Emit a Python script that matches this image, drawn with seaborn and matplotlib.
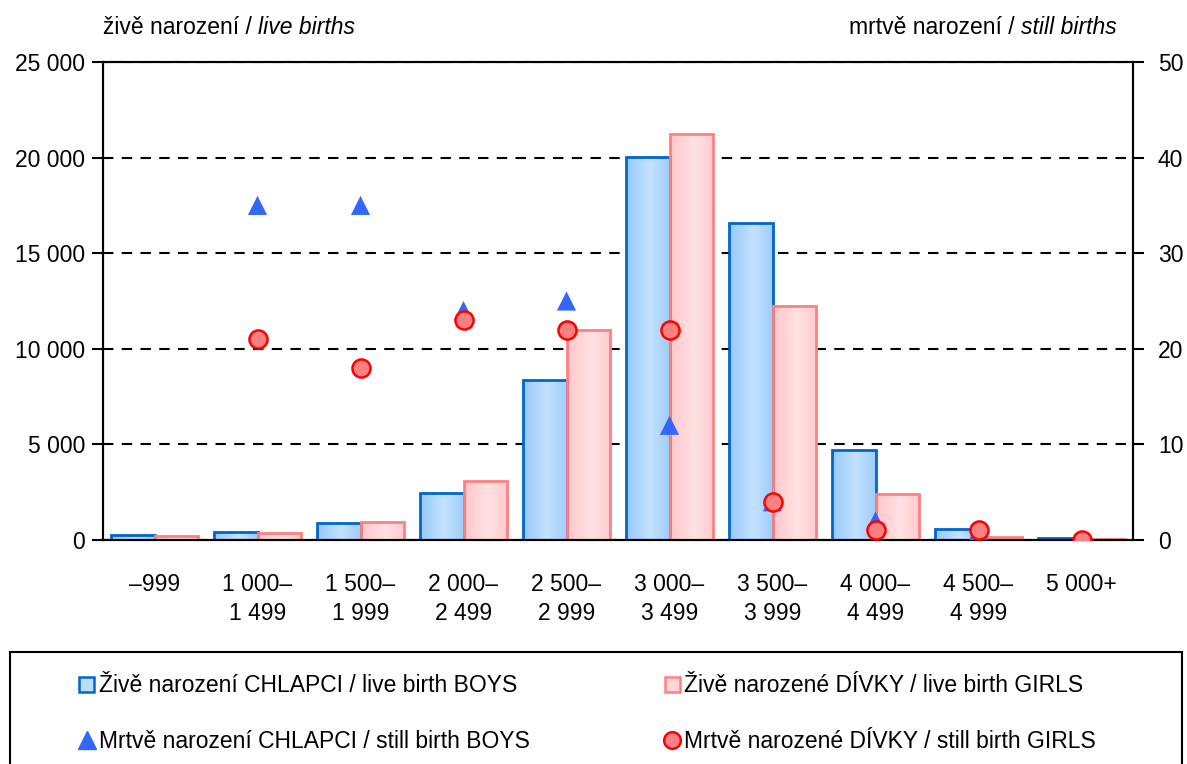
import numpy as np
import pandas as pd
import matplotlib
matplotlib.use("Agg")
import matplotlib.pyplot as plt
import seaborn as sns
from matplotlib.colors import LinearSegmentedColormap
from matplotlib.patches import Patch, Rectangle
from matplotlib.lines import Line2D
from matplotlib.ticker import FuncFormatter, MultipleLocator

# Data
categories = ['–999', '1 000–\n1 499', '1 500–\n1 999', '2 000–\n2 499', '2 500–\n2 999',
              '3 000–\n3 499', '3 500–\n3 999', '4 000–\n4 499', '4 500–\n4 999', '5 000+']
live_boys = [260, 400, 900, 2460, 8370, 20030, 16600, 4710, 575, 90]
live_girls = [210, 380, 940, 3090, 10960, 21220, 12240, 2400, 170, 40]
still_boys = [np.nan, 35, 35, 24, 25, 12, 4, 2, 1, 0]
still_girls = [np.nan, 21, 18, 23, 22, 22, 4, 1, 1, 0]

lbl_boys = 'Živě narození CHLAPCI / live birth BOYS'
lbl_girls = 'Živě narozené DÍVKY / live birth GIRLS'
lbl_sboys = 'Mrtvě narození CHLAPCI / still birth BOYS'
lbl_sgirls = 'Mrtvě narozené DÍVKY / still birth GIRLS'

df = pd.DataFrame({
    'kategorie': categories * 2,
    'pocet': live_boys + live_girls,
    'pohlavi': ['boys'] * len(categories) + ['girls'] * len(categories),
})

# Style
sns.set_style("white")
FS = 16.5
plt.rcParams['font.family'] = ['Liberation Sans', 'DejaVu Sans']
plt.rcParams.update({'font.size': FS, 'text.color': 'black',
                     'xtick.color': 'black', 'ytick.color': 'black'})

fig = plt.figure(figsize=(11.87, 7.64), dpi=100)
ax = fig.add_axes([103 / 1187, 1 - 540 / 764, 1030 / 1187, 478 / 764])

blue_edge, pink_edge = '#0066CC', '#FF8080'
sns.barplot(data=df, x='kategorie', y='pocet', hue='pohlavi', ax=ax, width=0.84, gap=0,
            palette={'boys': '#BBDDFF', 'girls': '#FFD6D9'}, legend=False,
            edgecolor='black', linewidth=2, saturation=1, zorder=2)

# gradient fill for bars (light in the middle, darker at edges)
grad_maps = {
    'boys': (LinearSegmentedColormap.from_list('b', ['#96C8F8', '#C4E2FF']), blue_edge),
    'girls': (LinearSegmentedColormap.from_list('g', ['#FFC6CA', '#FFE2E4']), pink_edge),
}
xs = np.linspace(0, 1, 64)
grad = np.tile(1 - np.abs(xs - 0.55) * 1.8, (2, 1))
n = len(categories)
for i, p in enumerate(ax.patches[:2 * n]):
    key = 'boys' if i < n else 'girls'
    cmap, ec = grad_maps[key]
    p.set_edgecolor(ec)
    p.set_facecolor('none')
    x0, w, h = p.get_x(), p.get_width(), p.get_height()
    im = ax.imshow(grad, cmap=cmap, vmin=0, vmax=1, aspect='auto',
                   extent=(x0, x0 + w, 0, h), zorder=1.5, interpolation='bilinear')
    im.set_clip_path(p)

ax.set_xlim(-0.5, n - 0.5)
ax.set_ylim(0, 25000)
ax.yaxis.set_major_locator(MultipleLocator(5000))
ax.yaxis.set_major_formatter(FuncFormatter(lambda v, _: f'{int(v):,}'.replace(',', ' ')))
ax.yaxis.grid(True, color='black', linestyle=(0, (5, 4)), linewidth=1.5)
ax.set_axisbelow(True)
ax.set_xlabel('')
ax.set_ylabel('')

# x ticks: labels at centres, tick marks between categories
ax.set_xticks(np.arange(n))
ax.set_xticklabels(categories, fontsize=FS, linespacing=1.3)
ax.set_xticks(np.arange(n + 1) - 0.5, minor=True)
ax.tick_params(axis='x', which='major', length=0, pad=24)
ax.tick_params(axis='x', which='minor', length=8, width=1.5, direction='out', color='black')
ax.tick_params(axis='y', length=8, width=1.5, direction='out', color='black', pad=5, labelsize=FS)
for s in ax.spines.values():
    s.set_color('black')
    s.set_linewidth(1.5)

# still births on the right axis
ax2 = ax.twinx()
pos = np.arange(n)
sns.scatterplot(x=pos, y=still_boys, marker='^', s=190, color='#3366FF', edgecolor='none',
                ax=ax2, zorder=3)
sns.scatterplot(x=pos, y=still_girls, marker='o', s=170, color='#FF8080', edgecolor='#FF0000',
                linewidth=1.8, ax=ax2, zorder=4)
ax2.set_ylim(0, 50)
ax2.set_xlim(-0.5, n - 0.5)
ax2.yaxis.set_major_locator(MultipleLocator(10))
ax2.tick_params(axis='y', length=8, width=1.5, direction='out', color='black', pad=10, labelsize=FS)
for s in ax2.spines.values():
    s.set_color('black')
    s.set_linewidth(1.5)

# axis headers
t1 = fig.text(103 / 1187, 1 - 28 / 764, 'živě narození / ', ha='left', va='center', fontsize=FS)
ax.annotate('live births', xy=(1, 0), xycoords=t1, ha='left', va='bottom',
            fontsize=FS, style='italic', annotation_clip=False)
t2 = fig.text(1117 / 1187, 1 - 28 / 764, 'still births', ha='right', va='center',
              fontsize=FS, style='italic')
ax.annotate('mrtvě narození / ', xy=(0, 0), xycoords=t2, ha='right', va='bottom',
            fontsize=FS, annotation_clip=False)

# legend
fig.patches.append(Rectangle((10 / 1187, -0.05), 1172 / 1187, (764 - 652) / 764 + 0.05,
                             transform=fig.transFigure, fill=False, edgecolor='black',
                             linewidth=1.5))
handles = [
    Patch(facecolor='#BBDDFF', edgecolor=blue_edge, linewidth=1.8, label=lbl_boys),
    Line2D([], [], marker='^', linestyle='none', markersize=13, color='#3366FF', label=lbl_sboys),
    Patch(facecolor='#FFD6D9', edgecolor=pink_edge, linewidth=1.8, label=lbl_girls),
    Line2D([], [], marker='o', linestyle='none', markersize=12, markerfacecolor='#FF8080',
           markeredgecolor='#FF0000', markeredgewidth=1.8, label=lbl_sgirls),
]
fig.legend(handles=handles, ncol=2, loc='upper left', bbox_to_anchor=(68 / 1187, 1 - 663 / 764),
           frameon=False, fontsize=FS, handlelength=0.65, handleheight=0.65, handletextpad=0.2,
           columnspacing=5.9, labelspacing=1.42, borderpad=0)

fig.savefig('out.png', dpi=100)
